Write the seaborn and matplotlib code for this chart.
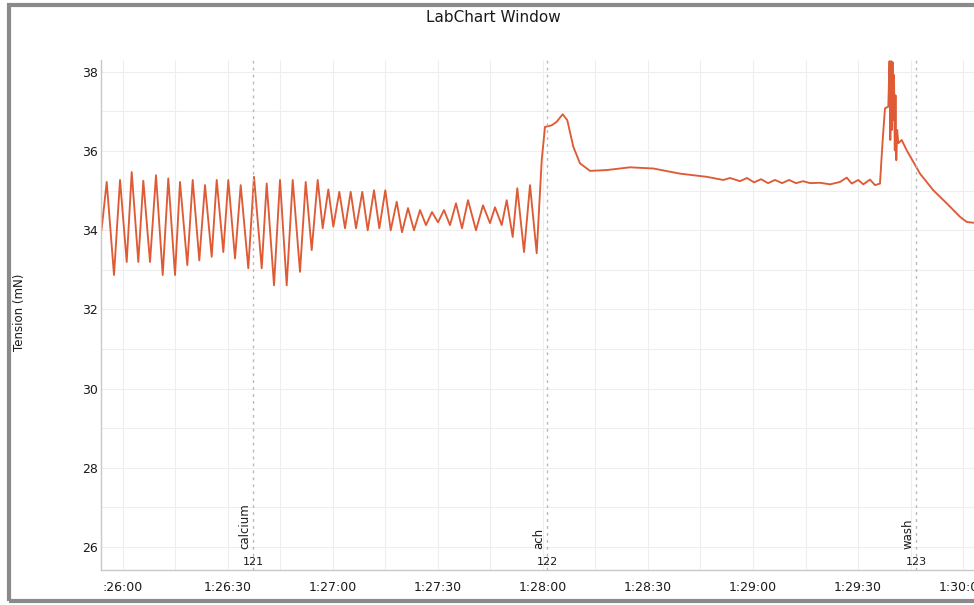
import numpy as np
import pandas as pd
import matplotlib
matplotlib.use("Agg")
import matplotlib.pyplot as plt
import seaborn as sns
from matplotlib.patches import Rectangle

# ---------------- data (seconds after 1:26:00, tension in mN) ----------------
time_s = [
    -6.0, -4.51, -2.43, -0.71, 1.20, 2.63, 4.51, 5.94, 7.85, 9.56,
    11.48, 13.07, 14.99, 16.41, 18.50, 20.04, 21.92, 23.55, 25.46, 26.89,
    28.78, 30.20, 32.12, 33.74, 35.91, 37.54, 39.74, 41.16, 43.25, 44.96,
    46.87, 48.59, 50.67, 52.30, 54.01, 55.72, 57.15, 58.75, 60.18, 61.89,
    63.52, 65.14, 66.66, 68.46, 70.00, 71.80, 73.31, 75.02, 76.56, 78.28,
    79.79, 81.50, 83.21, 84.93, 86.64, 88.35, 90.07, 91.78, 93.49, 95.20,
    96.92, 98.63, 100.91, 102.91, 104.91, 106.34, 108.25, 109.68, 111.39, 112.70,
    114.62, 116.33, 118.24, 119.67, 120.61, 122.52, 123.95, 125.66, 126.97, 128.69,
    130.60, 133.46, 138.22, 144.87, 151.53, 159.15, 166.77, 171.51, 173.42, 176.28,
    178.28, 180.28, 182.28, 184.28, 186.28, 188.28, 190.28, 192.28, 194.28, 196.28,
    199.12, 201.97, 204.83, 206.74, 208.16, 210.05, 211.47, 213.39, 214.82, 216.24,
    217.01, 217.67, 218.61, 218.96, 219.19, 219.39, 219.62, 219.82, 220.04, 220.24,
    220.47, 220.67, 220.89, 221.15, 221.47, 222.44, 223.87, 227.67, 231.46, 235.29,
    239.09, 241.00, 242.89,
]
tension_mN = [
    34.00, 35.22, 32.87, 35.27, 33.20, 35.47, 33.20, 35.25, 33.20, 35.39,
    32.87, 35.31, 32.87, 35.22, 33.12, 35.27, 33.24, 35.14, 33.33, 35.27,
    33.45, 35.27, 33.29, 35.14, 33.04, 35.35, 33.04, 35.18, 32.61, 35.27,
    32.61, 35.27, 32.95, 35.22, 33.50, 35.27, 34.05, 35.03, 34.09, 34.97,
    34.05, 34.97, 34.05, 34.97, 34.00, 35.01, 34.05, 35.01, 34.00, 34.72,
    33.95, 34.56, 34.00, 34.51, 34.13, 34.46, 34.20, 34.51, 34.13, 34.68,
    34.05, 34.76, 34.00, 34.63, 34.18, 34.58, 34.13, 34.76, 33.83, 35.06,
    33.45, 35.14, 33.42, 35.77, 36.61, 36.65, 36.74, 36.93, 36.78, 36.11,
    35.69, 35.50, 35.52, 35.59, 35.56, 35.43, 35.35, 35.27, 35.32, 35.24,
    35.32, 35.21, 35.29, 35.19, 35.27, 35.19, 35.27, 35.19, 35.24, 35.19,
    35.20, 35.16, 35.22, 35.33, 35.18, 35.27, 35.16, 35.28, 35.14, 35.18,
    36.28, 37.08, 37.12, 38.27, 36.28, 38.27, 36.53, 38.25, 36.78, 37.92,
    36.02, 37.41, 35.77, 36.53, 36.20, 36.28, 36.02, 35.43, 35.01, 34.68,
    34.34, 34.21, 34.19,
]

event_times = [37.25, 121.2, 226.6]
event_labels = ["calcium", "ach", "wash"]
event_ids = ["121", "122", "123"]

xtick_secs = [0, 30, 60, 90, 120, 150, 180, 210, 240]
xtick_labels = [":26:00", "1:26:30", "1:27:00", "1:27:30", "1:28:00",
                "1:28:30", "1:29:00", "1:29:30", "1:30:00"]
ytick_vals = [26, 28, 30, 32, 34, 36, 38]

title_text = "LabChart Window"
ylabel_text = "Tension (mN)"

# ---------------- figure ----------------
sns.set_theme(style="white")
plt.rcParams["font.family"] = ["DejaVu Sans"]

W, H = 974, 605
fig = plt.figure(figsize=(W / 100, H / 100), dpi=100)
fig.patch.set_facecolor("white")

ax = fig.add_axes([101 / W, 35 / H, 873 / W, 510 / H])
ax.set_facecolor("white")

df = pd.DataFrame({"t": time_s, "v": tension_mN})
sns.lineplot(data=df, x="t", y="v", ax=ax, color="#DE5B36", lw=1.35,
             sort=False, estimator=None)

ax.set_xlim(-6.14, 243.08)
ax.set_ylim(25.42, 38.30)

ax.set_xticks(xtick_secs)
ax.set_xticklabels(xtick_labels)
ax.set_yticks(ytick_vals)
ax.set_xticks(np.arange(15, 243, 30), minor=True)
ax.set_yticks(np.arange(27, 38, 2), minor=True)
ax.grid(which="both", color="#eeeeee", lw=0.8)

ax.tick_params(axis="x", which="major", length=3, color="#cccccc", pad=5,
               labelsize=9, labelcolor="#1a1a1a")
ax.tick_params(axis="y", which="major", length=0, pad=2,
               labelsize=9, labelcolor="#1a1a1a")
ax.tick_params(which="minor", length=0)

for s in ["top", "right"]:
    ax.spines[s].set_visible(False)
for s in ["left", "bottom"]:
    ax.spines[s].set_color("#c8c8c8")
    ax.spines[s].set_linewidth(1)

ax.set_xlabel("")
ax.set_ylabel("")

# event markers
for t, lab, num in zip(event_times, event_labels, event_ids):
    ax.axvline(t, color="#b8b8b8", lw=1, ls=(0, (2, 3)))
    ax.annotate(lab, xy=(t, 0), xycoords=("data", "axes fraction"),
                xytext=(-8, 21), textcoords="offset pixels",
                rotation=90, ha="center", va="bottom", fontsize=8.5,
                color="#1a1a1a")
    ax.annotate(num, xy=(t, 0), xycoords=("data", "axes fraction"),
                xytext=(0, 8), textcoords="offset pixels",
                ha="center", va="center", fontsize=8, color="#1a1a1a")

fig.text(493 / W, 1 - 18 / H, title_text, ha="center", va="center",
         fontsize=11, color="#1a1a1a")
fig.text(20 / W, 1 - 312 / H, ylabel_text, ha="center", va="center",
         rotation=90, fontsize=8.5, color="#1a1a1a")

# window frame
fig.patches.append(Rectangle((9 / W, 4 / H), (990 - 9) / W, (601 - 5) / H,
                             transform=fig.transFigure, fill=False,
                             edgecolor="#8a8a8a", lw=3, zorder=10))

fig.savefig("out.png", dpi=100)
